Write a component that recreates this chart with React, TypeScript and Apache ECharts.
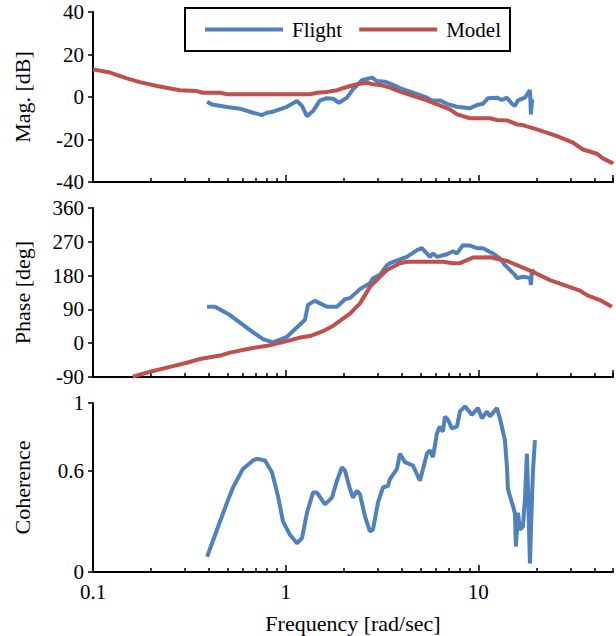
import React, { useEffect, useRef } from 'react';
import * as echarts from 'echarts';

// ---- Data (frequency in rad/sec) ----
const magModelFreq = [0.1, 0.1225, 0.15, 0.175, 0.215, 0.26, 0.283, 0.347, 0.372, 0.456, 0.5, 1.34, 1.45, 1.64, 1.85, 2.08, 2.34, 2.64, 2.84, 3.09, 3.48, 3.92, 4.58, 5.41, 7.12, 7.75, 9.05, 11.5, 12.5, 14.1, 15.9, 17.0, 20.9, 25.6, 31.0, 34.9, 41.3, 44.3, 49.4, 50];
const magModelDb = [13, 11.5, 8.8, 7, 5.2, 3.8, 3.2, 2.8, 2.0, 2.0, 1.3, 1.3, 2.0, 2.4, 3.2, 4.7, 6.0, 6.7, 6.0, 5.7, 4.4, 2.5, 0.5, -1.6, -5.8, -8.2, -10, -10, -10.8, -11, -12.9, -13.2, -15.7, -18.4, -21.5, -24.7, -26.7, -28.9, -31, -31.5];

const magFlightFreq = [0.391, 0.415, 0.496, 0.579, 0.677, 0.754, 0.8, 0.859, 1.016, 1.145, 1.215, 1.29, 1.386, 1.507, 1.638, 1.76, 1.891, 2.081, 2.235, 2.489, 2.804, 2.977, 3.276, 3.605, 3.92, 4.578, 5.411, 5.745, 6.32, 6.872, 7.745, 9.046, 9.833, 10.57, 11.22, 12.49, 13.26, 14.08, 14.94, 15.48, 16.05, 17.45, 18.53, 18.75, 18.98, 19.44];
const magFlightDb = [-2.2, -3.5, -4.7, -5.5, -7.4, -8.5, -7.4, -6.9, -4.6, -1.9, -4.2, -9, -6.6, -1.6, -0.6, -0.8, -2.7, -0.3, 3.6, 7.9, 9.1, 7.5, 7.2, 5.7, 4.2, 2, -0.3, -1.6, -1.6, -3.2, -4.6, -5.3, -3.8, -3.2, -0.6, -0.3, -1.4, -0.3, -3.2, -4.2, -1.6, -0.3, 3.2, -8.2, -1.9, -1.6];

const phaseModelFreq = [0.161, 0.198, 0.251, 0.307, 0.359, 0.456, 0.514, 0.653, 0.8, 0.968, 1.187, 1.337, 1.562, 1.76, 2.157, 2.43, 2.737, 3.086, 3.355, 3.92, 4.262, 6.551, 7.383, 8.029, 9.376, 11.49, 14.08, 19.21, 23.52, 33.67, 36.61, 42.76, 49.36];
const phaseModelDeg = [-89, -76, -63, -52, -42, -33, -25, -14, -7, 3, 15, 19, 32, 46, 79, 106, 150, 177, 195, 213, 217, 217, 213, 213, 228, 229, 219, 190, 168, 140, 128, 115, 97];

const phaseFlightFreq = [0.391, 0.43, 0.514, 0.653, 0.763, 0.859, 1.016, 1.229, 1.259, 1.305, 1.386, 1.419, 1.507, 1.638, 1.846, 2.032, 2.157, 2.43, 2.737, 2.838, 3.086, 3.355, 3.478, 3.92, 4.262, 4.802, 5.097, 5.609, 5.814, 6.098, 6.872, 7.383, 7.745, 8.322, 9.046, 9.833, 10.57, 11.9, 12.94, 13.74, 15.48, 15.86, 17.04, 18.53, 18.75, 18.98, 19.67];
const phaseFlightDeg = [97, 97, 75, 35, 11, 2, 17, 57, 62, 102, 110, 113, 106, 97, 97, 117, 120, 144, 160, 173, 182, 208, 213, 223, 230, 248, 253, 230, 239, 230, 237, 245, 239, 261, 260, 253, 253, 239, 226, 208, 182, 173, 177, 174, 155, 195, 183];

const cohFreq = [0.391, 0.44, 0.496, 0.533, 0.6, 0.677, 0.71, 0.781, 0.849, 0.912, 0.968, 1.053, 1.145, 1.215, 1.29, 1.386, 1.454, 1.6, 1.739, 1.846, 1.96, 2.032, 2.157, 2.235, 2.344, 2.43, 2.579, 2.737, 2.838, 3.013, 3.198, 3.396, 3.478, 3.782, 3.92, 4.161, 4.578, 4.977, 5.411, 5.609, 5.814, 6.098, 6.32, 6.551, 6.71, 6.955, 7.295, 7.745, 8.029, 8.523, 9.265, 9.952, 10.44, 11.08, 11.49, 12.49, 12.94, 13.74, 14.08, 14.24, 14.94, 15.48, 15.67, 16.05, 16.44, 17.04, 17.45, 17.87, 18.09, 18.53, 18.98, 19.21, 19.67];
const cohValues = [0.09, 0.25, 0.41, 0.5, 0.61, 0.66, 0.67, 0.66, 0.59, 0.45, 0.3, 0.22, 0.17, 0.2, 0.35, 0.47, 0.47, 0.4, 0.44, 0.54, 0.62, 0.6, 0.49, 0.44, 0.48, 0.46, 0.33, 0.24, 0.25, 0.41, 0.5, 0.51, 0.55, 0.61, 0.7, 0.65, 0.63, 0.54, 0.7, 0.72, 0.68, 0.82, 0.86, 0.83, 0.92, 0.9, 0.85, 0.86, 0.95, 0.98, 0.93, 0.97, 0.91, 0.95, 0.92, 0.97, 0.91, 0.78, 0.62, 0.49, 0.41, 0.35, 0.15, 0.35, 0.25, 0.27, 0.43, 0.7, 0.5, 0.05, 0.43, 0.6, 0.78];

const minorTickFreqs = [0.2, 0.3, 0.4, 0.5, 0.6, 0.7, 0.8, 0.9, 2, 3, 4, 5, 6, 7, 8, 9, 20, 30, 40, 50];
const cohTicks = [0, 0.6, 1];

const FONT = 'Liberation Serif';
const BLUE = '#4F81BD';
const RED = '#C0504D';

const zip = (xs: number[], ys: number[]) => xs.map((x, i) => [x, ys[i]]);

function buildOption() {
  const gridTops = [12, 208, 403];
  const gridHeights = [170, 169, 169];
  const grid = gridTops.map((t, i) => ({ left: 93, width: 520, top: t, height: gridHeights[i] }));

  const xAxis: any[] = [];
  for (let i = 0; i < 3; i++) {
    xAxis.push({
      type: 'log',
      logBase: 10,
      min: 0.1,
      max: 50,
      gridIndex: i,
      position: 'bottom',
      axisLine: { show: true, onZero: false, lineStyle: { color: '#000', width: 2 } },
      axisTick: { show: true, inside: true, length: 7, lineStyle: { color: '#000', width: 1.5 } },
      axisLabel: {
        show: i === 2,
        showMaxLabel: false,
        fontSize: 21,
        fontFamily: FONT,
        color: '#000',
        margin: 9,
        formatter: (v: number) => String(+v.toPrecision(6)),
      },
      splitLine: { show: false },
      name: i === 2 ? 'Frequency [rad/sec]' : '',
      nameLocation: 'middle',
      nameGap: 40,
      nameTextStyle: { fontSize: 22, fontFamily: FONT, color: '#000' },
    });
    xAxis.push({
      type: 'value',
      min: -1,
      max: Math.log10(50),
      gridIndex: i,
      position: 'bottom',
      axisLine: { show: false, onZero: false },
      axisLabel: { show: false },
      splitLine: { show: false },
      axisTick: {
        show: true,
        inside: true,
        length: 4,
        customValues: minorTickFreqs.map((f) => Math.log10(f)),
        lineStyle: { color: '#000', width: 1.5 },
      },
    });
  }

  const yCommon = {
    type: 'value',
    nameLocation: 'middle',
    nameGap: 60,
    nameRotate: 90,
    nameTextStyle: { fontSize: 22, fontFamily: FONT, color: '#000' },
    axisLine: { show: true, onZero: false, lineStyle: { color: '#000', width: 2 } },
    axisTick: { show: true, inside: false, length: 5, lineStyle: { color: '#000', width: 1.5 } },
    axisLabel: { fontSize: 21, fontFamily: FONT, color: '#000', margin: 9 },
    splitLine: { show: false },
  };

  const yAxis: any[] = [
    { ...yCommon, gridIndex: 0, min: -40, max: 40, interval: 20, name: 'Mag. [dB]' },
    { ...yCommon, gridIndex: 1, min: -90, max: 360, interval: 90, name: 'Phase [deg]' },
    {
      ...yCommon,
      gridIndex: 2,
      min: 0,
      max: 1,
      name: 'Coherence',
      axisLabel: { ...yCommon.axisLabel, customValues: cohTicks },
      axisTick: { ...yCommon.axisTick, customValues: cohTicks },
    },
  ];

  const lineSeries = (name: string, color: string, data: number[][], xi: number, yi: number) => ({
    type: 'line',
    name,
    data,
    xAxisIndex: xi,
    yAxisIndex: yi,
    symbol: 'none',
    showSymbol: false,
    lineStyle: { color, width: 4 },
    itemStyle: { color },
    clip: true,
  });

  return {
    animation: false,
    backgroundColor: '#fff',
    textStyle: { fontFamily: FONT },
    grid,
    xAxis,
    yAxis,
    legend: {
      data: ['Flight', 'Model'],
      icon: 'rect',
      left: 185,
      top: 8,
      padding: [11, 9, 11, 20],
      borderColor: '#000',
      borderWidth: 2,
      borderRadius: 0,
      itemWidth: 78,
      itemHeight: 4,
      itemGap: 17,
      textStyle: { fontSize: 21, fontFamily: FONT, color: '#000', padding: [0, 0, 0, 4] },
    },
    series: [
      lineSeries('Flight', BLUE, zip(magFlightFreq, magFlightDb), 0, 0),
      lineSeries('Model', RED, zip(magModelFreq, magModelDb), 0, 0),
      lineSeries('Flight', BLUE, zip(phaseFlightFreq, phaseFlightDeg), 2, 1),
      lineSeries('Model', RED, zip(phaseModelFreq, phaseModelDeg), 2, 1),
      lineSeries('Flight', BLUE, zip(cohFreq, cohValues), 4, 2),
    ],
  };
}

export default function App() {
  const ref = useRef<HTMLDivElement>(null);
  useEffect(() => {
    if (!ref.current) return;
    const chart = echarts.init(ref.current, undefined, { renderer: 'svg' });
    chart.setOption(buildOption() as any);
    return () => chart.dispose();
  }, []);
  return (
    <div
      ref={ref}
      style={{ position: 'absolute', left: 0, top: 0, width: 616, height: 636, background: '#fff' }}
    />
  );
}
